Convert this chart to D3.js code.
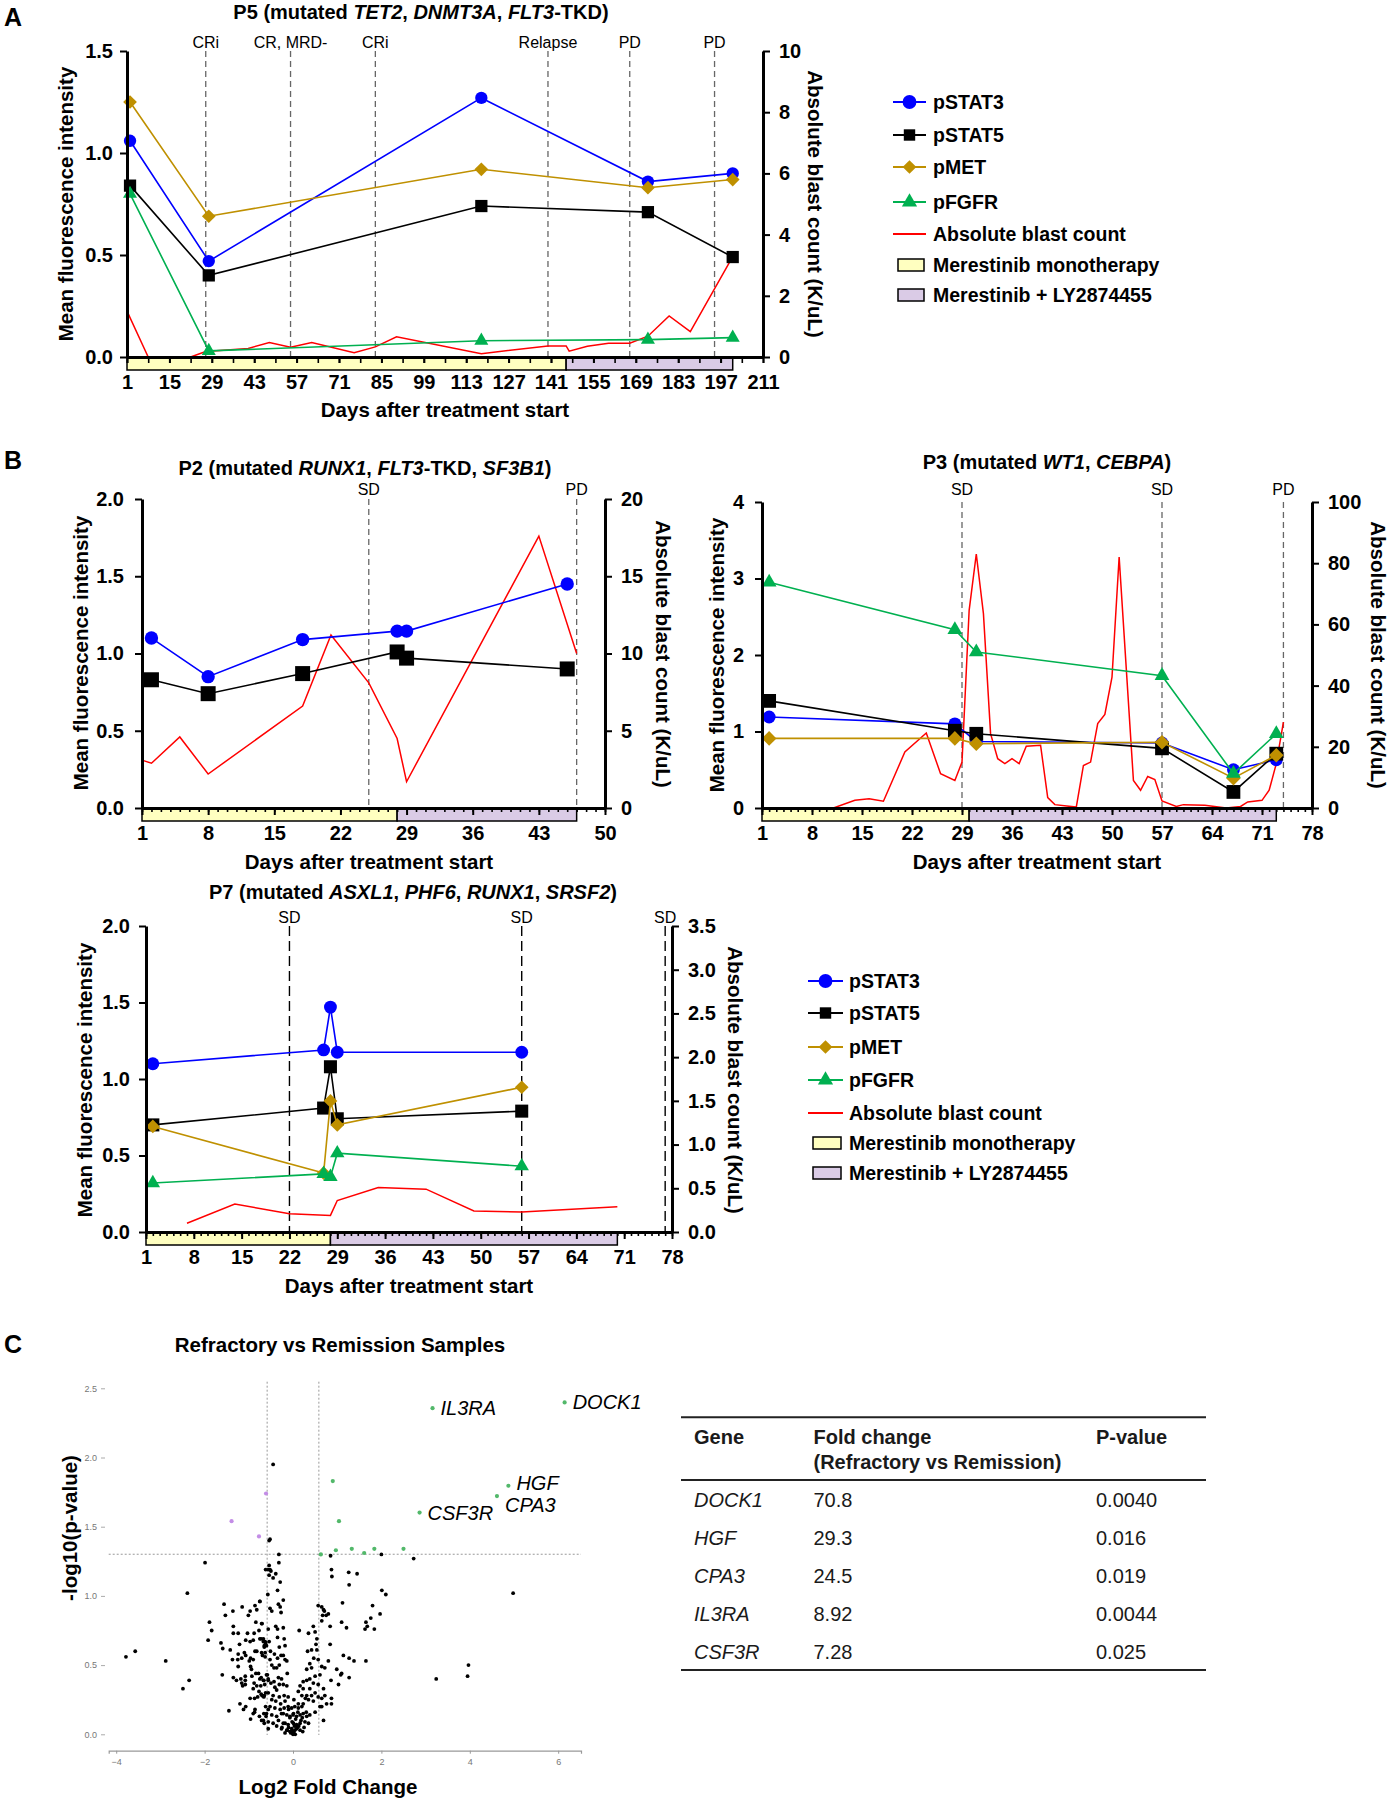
<!DOCTYPE html>
<html><head><meta charset="utf-8">
<script src="https://cdn.jsdelivr.net/npm/d3@7"></script>
<style>body{margin:0;background:#fff}svg{display:block}</style>
</head><body>
<svg id="c" width="1391" height="1800"></svg>
<script>
// ================= DATA =================
const seriesNames = ["pSTAT3", "pSTAT5", "pMET", "pFGFR"];
const legendLabels = ["pSTAT3", "pSTAT5", "pMET", "pFGFR", "Absolute blast count", "Merestinib monotherapy", "Merestinib + LY2874455"];

// P5
const p5Days = [2, 28, 118, 173, 201];
const p5STAT3 = [1.06, 0.47, 1.27, 0.86, 0.90];
const p5STAT5 = [0.84, 0.40, 0.74, 0.71, 0.49];
const p5MET = [1.25, 0.69, 0.92, 0.83, 0.87];
const p5FGFR = [0.80, 0.03, 0.08, 0.085, 0.095];
const p5BlastDays = [1, 8, 22, 27, 41, 48, 55, 62, 76, 83, 90, 118, 140, 146, 147, 153, 160, 167, 173, 180, 187, 201];
const p5Blast = [1.5, 0, 0, 0.18, 0.28, 0.47, 0.32, 0.47, 0.14, 0.33, 0.66, 0.11, 0.36, 0.36, 0.19, 0.35, 0.45, 0.45, 0.68, 1.34, 0.83, 3.28];
const p5EventDays = [27, 55, 83, 140, 167, 195];
const p5EventLabels = ["CRi", "CR, MRD-", "CRi", "Relapse", "PD", "PD"];
const p5Treat = [[1, 146], [146, 201]];
const p5XLabels = d3.range(1, 212, 14);

// P2
const p2Days = [2, 8, 18, 28, 29, 46];
const p2STAT3 = [1.10, 0.85, 1.09, 1.145, 1.145, 1.45];
const p2STAT5 = [0.83, 0.74, 0.87, 1.01, 0.97, 0.90];
const p2BlastDays = [1, 2, 5, 8, 18, 21, 25, 28, 29, 43, 47];
const p2Blast = [3.1, 2.9, 4.6, 2.2, 6.6, 11.2, 8.1, 4.5, 1.7, 17.6, 10.0];
const p2EventDays = [25, 47];
const p2EventLabels = ["SD", "PD"];
const p2Treat = [[1, 28], [28, 47]];

// P3
const p3Days = [2, 28, 31, 57, 67, 73];
const p3STAT3 = [1.19, 1.10, 0.87, 0.85, 0.50, 0.63];
const p3STAT5 = [1.40, 1.01, 0.97, 0.78, 0.21, 0.71];
const p3MET = [0.91, 0.91, 0.84, 0.86, 0.39, 0.69];
const p3FGFR = [2.95, 2.33, 2.04, 1.73, 0.45, 0.97];
const p3BlastDays = [1, 11, 14, 16, 18, 21, 24, 26, 28, 29, 30, 31, 32, 33, 34, 35, 36, 37, 38, 40, 41, 42, 45, 46, 47, 48, 49, 50, 51, 53, 54, 55, 56, 57, 59, 60, 63, 66, 68, 69, 71, 72, 73, 74];
const p3Blast = [0, 0, 2.5, 3, 2.2, 18.3, 24.5, 11.2, 9, 15, 64.6, 83, 63.5, 24.3, 16.1, 14.5, 16.1, 14.5, 20.2, 20.5, 3.4, 1.1, 0.3, 13.9, 15, 27.6, 30.6, 42.8, 82, 9, 5.8, 10.3, 9.3, 2.3, 0.5, 1.1, 0.9, 0, 0.5, 2, 2.5, 5.8, 14.5, 28.1];
const p3EventDays = [29, 57, 74];
const p3EventLabels = ["SD", "SD", "PD"];
const p3Treat = [[1, 30], [30, 73]];

// P7
const p7Days = [2, 27, 28, 29, 56];
const p7STAT3 = [1.10, 1.19, 1.47, 1.175, 1.175];
const p7STAT5 = [0.70, 0.81, 1.08, 0.74, 0.79];
const p7MET = [0.69, 0.385, 0.857, 0.70, 0.946];
const p7FGFR = [0.32, 0.38, 0.36, 0.515, 0.43];
const p7BlastDays = [7, 14, 22, 28, 29, 35, 42, 49, 56, 70];
const p7Blast = [0.10, 0.32, 0.21, 0.19, 0.36, 0.51, 0.49, 0.24, 0.23, 0.29];
const p7EventDays = [22, 56, 77];
const p7EventLabels = ["SD", "SD", "SD"];
const p7Treat = [[1, 28], [28, 70]];

// Table / labelled genes
const tableGenes = ["DOCK1", "HGF", "CPA3", "IL3RA", "CSF3R"];
const tableFold = [70.8, 29.3, 24.5, 8.92, 7.28];
const tablePval = ["0.0040", "0.016", "0.019", "0.0044", "0.025"];

// Volcano: significant up (green), down (purple), non-significant (black) [log2FC, -log10 p]
const volcanoUp = [[0.90, 1.83], [1.04, 1.54], [0.63, 1.30], [0.97, 1.33], [1.33, 1.34], [1.61, 1.31], [1.84, 1.34], [2.50, 1.34]];
const volcanoDown = [[-0.61, 1.74], [-1.39, 1.54], [-0.77, 1.43]];
const volcanoNs = [
[-1.99,1.24],[-2.39,1.02],[-1.56,0.94],[-1.15,0.92],[-0.86,0.93],[-0.82,0.90],[-0.97,0.89],[-1.36,0.89],[-0.75,0.96],[-1.01,0.86],[-1.53,0.86],[-1.89,0.81],[-0.84,0.81],[-0.70,0.80],[-1.35,0.78],[-1.84,0.75],[-1.35,0.73],[-1.24,0.73],[-1.03,0.73],[-0.88,0.73],[-0.77,0.75],[-1.92,0.68],[-1.63,0.66],[-1.07,0.68],[-0.97,0.67],[-0.90,0.68],[-0.75,0.69],[-0.67,0.69],[-0.63,0.67],[-1.21,0.65],[-1.42,0.61],[-1.59,0.62],[-0.65,0.64],[-3.57,0.60],[-3.78,0.56],[-2.88,0.53],[-1.24,0.58],[-1.10,0.59],[-1.07,0.57],[-0.86,0.60],[-0.82,0.60],[-0.69,0.57],[-0.63,0.59],[-0.96,0.55],[-0.90,0.54],[-0.99,0.53],[-1.37,0.54],[-1.25,0.54],[-1.16,0.55],[-1.24,0.49],[-0.96,0.49],[-0.94,0.47],[-1.60,0.43],[-1.35,0.41],[-1.28,0.39],[-1.18,0.40],[-1.08,0.42],[-1.08,0.39],[-0.93,0.42],[-0.84,0.44],[-0.78,0.44],[-0.75,0.40],[-0.67,0.39],[-0.60,0.43],[-2.35,0.39],[-2.49,0.33],[-1.16,0.37],[-1.14,0.35],[-1.08,0.36],[-0.88,0.37],[-0.82,0.35],[-0.73,0.35],[-0.64,0.36],[-0.56,0.39],[-0.90,0.33],[-0.77,0.31],[-0.72,0.29],[-0.80,0.27],[-0.69,0.28],[-0.65,0.28],[-0.62,0.30],[-0.56,0.30],[-0.87,0.26],[-0.97,0.26],[-1.20,0.22],[-1.07,0.20],[-1.12,0.18],[-0.86,0.18],[-0.62,0.20],[-0.56,0.18],[-1.45,0.17],[-0.90,0.15],[-0.87,0.16],[-0.76,0.13],[-0.66,0.15],[-0.61,0.13],[-0.71,0.10],[-0.96,0.11],[-0.65,0.08],[-0.56,0.04],[-0.62,1.19],[-0.56,1.19],[-0.54,1.15],
[-0.32,1.24],[-0.54,1.22],[-0.50,1.18],[-0.39,1.16],[-0.45,1.13],[-0.29,1.10],[-0.52,1.19],[-0.57,1.01],[-0.35,1.04],[-0.22,0.97],[-0.33,0.94],[-0.29,0.92],[-0.52,0.91],[-0.48,0.89],[-0.27,0.88],[-0.75,0.96],[-0.71,0.80],[-0.39,0.78],[-0.35,0.76],[-0.56,0.76],[-0.22,0.77],[-0.72,0.69],[-0.67,0.67],[-0.62,0.66],[-0.54,0.67],[-0.35,0.70],[-0.20,0.69],[-0.65,0.63],[-0.60,0.64],[-0.31,0.63],[-0.18,0.64],[-0.71,0.59],[-0.63,0.56],[-0.51,0.60],[-0.42,0.58],[-0.35,0.55],[-0.27,0.57],[-0.22,0.57],[-0.18,0.54],[-0.14,0.53],[-0.52,0.54],[-0.48,0.50],[-0.43,0.48],[-0.37,0.48],[-0.31,0.50],[-0.58,0.43],[-0.66,0.39],[-0.56,0.40],[-0.50,0.37],[-0.43,0.38],[-0.33,0.41],[-0.26,0.40],[-0.13,0.44],[-0.72,0.41],[-0.41,0.34],[-0.31,0.36],[-0.22,0.36],[-0.14,0.35],[-0.37,0.32],[-0.70,0.28],[-0.66,0.27],[-0.45,0.28],[-0.31,0.27],[-0.20,0.28],[-0.11,0.27],[-0.48,0.25],[-0.39,0.24],[-0.28,0.22],[-0.18,0.24],[-0.52,0.20],[-0.41,0.19],[-0.29,0.18],[-0.20,0.19],[-0.11,0.20],[-0.03,0.19],[0.04,0.20],[0.12,0.19],[0.20,0.20],[-0.60,0.15],[-0.48,0.14],[-0.37,0.13],[-0.26,0.15],[-0.14,0.14],[-0.07,0.13],[0.01,0.15],[0.08,0.13],[0.16,0.14],[0.23,0.15],[0.31,0.13],[0.38,0.14],[-0.67,0.10],[-0.56,0.09],[-0.45,0.08],[-0.33,0.10],[-0.22,0.08],[-0.11,0.07],[0.01,0.08],[0.08,0.07],[0.16,0.08],[0.27,0.09],[0.35,0.08],[-0.37,0.06],[-0.26,0.04],[-0.14,0.03],[-0.07,0.02],[-0.03,0.04],[0.01,0.02],[0.04,0.03],[0.08,0.04],[0.16,0.03],[0.22,0.02],[-0.18,0.01],[-0.01,0.01],
[0.00,0.00],[0.02,0.01],[-0.03,0.02],[0.05,0.00],[-0.05,0.01],[0.10,0.05],[-0.10,0.05],[0.13,0.06],[-0.13,0.03],[0.03,0.06],[-0.02,0.09],[0.06,0.11],[-0.07,0.12],[0.18,0.10],[-0.18,0.08],[0.00,0.14],[0.11,0.16],[-0.10,0.18],[0.21,0.12],[-0.22,0.15],[0.25,0.05],[-0.25,0.05],[0.30,0.16],[0.02,0.25],[0.28,0.26],
[0.14,0.75],[0.35,0.73],[0.46,0.78],[0.50,0.74],[0.54,0.69],[0.52,0.65],[0.42,0.61],[0.33,0.60],[0.54,0.61],[0.47,0.55],[0.38,0.51],[0.42,0.48],[0.31,0.47],[0.57,0.54],[0.65,0.49],[0.72,0.48],[0.61,0.43],[0.50,0.42],[0.38,0.40],[0.31,0.39],[0.23,0.38],[0.46,0.37],[0.57,0.36],[0.38,0.33],[0.23,0.33],[0.16,0.35],[0.12,0.31],[0.20,0.28],[0.31,0.28],[0.42,0.28],[0.50,0.30],[0.57,0.27],[0.69,0.33],[0.72,0.28],[0.65,0.26],[0.46,0.24],[0.35,0.25],[0.23,0.22],[0.12,0.22],[0.61,0.20],[0.50,0.16],[0.65,0.20],[0.69,0.10],[0.76,0.22],[0.87,0.22],[0.87,0.26],[0.57,0.93],[0.65,0.92],[0.69,0.90],[0.71,0.89],[0.67,0.86],[0.75,0.86],[0.80,0.87],[0.65,0.82],[0.84,0.78],[0.84,0.65],[0.86,0.39],[0.80,0.53],[0.99,0.47],[1.08,0.43],[1.10,0.44],[1.03,0.36],[1.27,0.41],[1.14,0.57],[1.27,0.55],[1.38,0.53],[1.65,0.53],[0.87,1.19],[0.88,1.14],[1.26,1.17],[1.27,1.08],[1.45,1.16],[1.12,0.95],[1.10,0.81],[1.21,0.77],[1.65,0.81],[1.68,0.78],[1.63,0.76],[1.76,0.84],[1.80,0.93],[1.84,0.76],[1.97,0.87],[2.01,1.04],[2.10,1.01],
[-0.45,1.95],[-0.54,1.40],[-0.52,1.41],[-0.32,1.30],[0.85,1.29],[2.00,1.30],[2.73,1.27],[3.24,0.40],[3.97,0.50],[3.95,0.42],[4.98,1.02]
];

// ================= DRAWING =================
const FONT = "'Liberation Sans', Arial, Helvetica, sans-serif";
const BLUE = "#0000ff", BLACK = "#000000", GOLD = "#bf9000", GREEN = "#00b050", RED = "#ff0000";
const YELLOW = "#ffffc0", LILAC = "#dacbe6";
const svg = d3.select("#c").attr("font-family", FONT);
svg.append("rect").attr("width", 1391).attr("height", 1800).attr("fill", "#fff");

function richText(x, y, parts, size, anchor) {
  const t = svg.append("text").attr("x", x).attr("y", y).attr("text-anchor", anchor || "middle")
    .attr("font-size", size).attr("font-weight", "bold").attr("fill", "#000");
  parts.forEach(p => t.append("tspan").attr("font-style", p[1] ? "italic" : "normal").text(p[0]));
  return t;
}

function styleAxis(sel, fs, width) {
  sel.attr("font-family", FONT).attr("font-size", fs).attr("font-weight", "bold");
  sel.select(".domain").attr("stroke", "#000").attr("stroke-width", width || 3);
  sel.selectAll(".tick line").attr("stroke", "#000").attr("stroke-width", 2);
  sel.selectAll(".tick text").attr("fill", "#000");
}

function timeChart(c) {
  const g = svg.append("g");
  const x = d3.scaleLinear().domain(c.xDomain).range([c.left, c.right]);
  const y = d3.scaleLinear().domain(c.yDomain).range([c.bottom, c.top]);
  const y2 = d3.scaleLinear().domain(c.y2Domain).range([c.bottom, c.top]);

  c.treat.forEach((t, i) => {
    g.append("rect").attr("x", x(t[0])).attr("y", c.bottom).attr("width", x(t[1]) - x(t[0])).attr("height", 13)
      .attr("fill", i === 0 ? YELLOW : LILAC).attr("stroke", "#000").attr("stroke-width", 1.5);
  });

  c.eventDays.forEach((d, i) => {
    g.append("line").attr("x1", x(d)).attr("x2", x(d)).attr("y1", c.top).attr("y2", c.bottom)
      .attr("stroke", c.evColor).attr("stroke-width", c.evWidth).attr("stroke-dasharray", c.evDash);
    g.append("text").attr("x", x(d)).attr("y", c.evLabelY).attr("text-anchor", "middle")
      .attr("font-size", 16).attr("fill", "#000").text(c.eventLabels[i]);
  });

  g.append("path").datum(c.blastDays.map((d, i) => [d, c.blast[i]]))
    .attr("d", d3.line().x(d => x(d[0])).y(d => y2(d[1])))
    .attr("fill", "none").attr("stroke", RED).attr("stroke-width", 1.5);

  const line = d3.line().x(d => x(d[0])).y(d => y(d[1]));
  c.series.forEach(s => {
    const pts = c.days.map((d, i) => [d, s.values[i]]);
    g.append("path").datum(pts).attr("d", line).attr("fill", "none").attr("stroke", s.color).attr("stroke-width", 1.6);
    g.selectAll(null).data(pts).join("path")
      .attr("transform", d => `translate(${x(d[0])},${y(d[1])})`)
      .attr("d", d3.symbol().type(s.symbol).size(s.size)).attr("fill", s.color);
  });

  const minor = g.append("g").attr("transform", `translate(0,${c.bottom})`)
    .call(d3.axisBottom(x).tickValues(c.xMinor).tickSize(c.minorSize).tickFormat("").tickSizeOuter(0));
  minor.select(".domain").remove();
  minor.selectAll(".tick line").attr("stroke", "#000").attr("stroke-width", 1.6);
  const xa = g.append("g").attr("transform", `translate(0,${c.bottom})`)
    .call(d3.axisBottom(x).tickValues(c.xLabels).tickSize(c.majorSize).tickPadding(18 - c.majorSize).tickSizeOuter(0).tickFormat(d3.format("d")));
  styleAxis(xa, 20);
  const ya = g.append("g").attr("transform", `translate(${c.left},0)`)
    .call(d3.axisLeft(y).tickValues(c.yTicks).tickFormat(c.yFmt).tickSize(7).tickPadding(c.yPad).tickSizeOuter(0));
  styleAxis(ya, 20);
  const y2a = g.append("g").attr("transform", `translate(${c.right},0)`)
    .call(d3.axisRight(y2).tickValues(c.y2Ticks).tickFormat(c.y2Fmt).tickSize(7).tickPadding(9).tickSizeOuter(0));
  styleAxis(y2a, 20);

  richText(c.titleX, c.titleY, c.title, 20);
  g.append("text").attr("x", c.xTitle[0]).attr("y", c.xTitle[1]).attr("text-anchor", "middle")
    .attr("font-size", 20.5).attr("font-weight", "bold").text("Days after treatment start");
  g.append("text").attr("transform", `translate(${c.yTitle[0]},${c.yTitle[1]}) rotate(-90)`)
    .attr("text-anchor", "middle").attr("dominant-baseline", "central")
    .attr("font-size", 20.5).attr("font-weight", "bold").text("Mean fluorescence intensity");
  g.append("text").attr("transform", `translate(${c.y2Title[0]},${c.y2Title[1]}) rotate(90)`)
    .attr("text-anchor", "middle").attr("dominant-baseline", "central")
    .attr("font-size", 20.5).attr("font-weight", "bold").text("Absolute blast count (K/uL)");
}

function mk(names, vals, sizes) {
  const colors = [BLUE, BLACK, GOLD, GREEN];
  const syms = [d3.symbolCircle, d3.symbolSquare, d3.symbolDiamond2, d3.symbolTriangle];
  return vals.map((v, i) => ({ name: names[i], values: v, color: colors[i], symbol: syms[i], size: sizes[i] }));
}

const f1 = d3.format(".1f"), fd = d3.format("d");

timeChart({
  left: 127, right: 763, top: 51, bottom: 357,
  xDomain: [1, 211], yDomain: [0, 1.5], y2Domain: [0, 10],
  yTicks: [0, 0.5, 1, 1.5], yFmt: f1, yPad: 7, y2Ticks: [0, 2, 4, 6, 8, 10], y2Fmt: fd,
  xLabels: p5XLabels, xMinor: d3.range(1, 212, 7), majorSize: 6, minorSize: 6,
  treat: p5Treat, eventDays: p5EventDays, eventLabels: p5EventLabels,
  evColor: "#666", evWidth: 1.3, evDash: "6,4", evLabelY: 48,
  blastDays: p5BlastDays, blast: p5Blast, days: p5Days,
  series: mk(seriesNames, [p5STAT3, p5STAT5, p5MET, p5FGFR], [120, 150, 120, 85]),
  title: [["P5 (mutated ", 0], ["TET2", 1], [", ", 0], ["DNMT3A", 1], [", ", 0], ["FLT3", 1], ["-TKD)", 0]],
  titleX: 421, titleY: 19, xTitle: [445, 417], yTitle: [65, 204], y2Title: [815, 204]
});

timeChart({
  left: 142, right: 605, top: 499, bottom: 808,
  xDomain: [1, 50], yDomain: [0, 2], y2Domain: [0, 20],
  yTicks: [0, 0.5, 1, 1.5, 2], yFmt: f1, yPad: 11, y2Ticks: [0, 5, 10, 15, 20], y2Fmt: fd,
  xLabels: d3.range(1, 51, 7), xMinor: d3.range(1, 51, 1), majorSize: 7, minorSize: 4,
  treat: p2Treat, eventDays: p2EventDays, eventLabels: p2EventLabels,
  evColor: "#666", evWidth: 1.3, evDash: "6,4", evLabelY: 495,
  blastDays: p2BlastDays, blast: p2Blast, days: p2Days,
  series: mk(seriesNames.slice(0, 2), [p2STAT3, p2STAT5], [140, 225]),
  title: [["P2 (mutated ", 0], ["RUNX1", 1], [", ", 0], ["FLT3", 1], ["-TKD, ", 0], ["SF3B1", 1], [")", 0]],
  titleX: 365, titleY: 475, xTitle: [369, 869], yTitle: [80, 653], y2Title: [663, 654]
});

timeChart({
  left: 762, right: 1312, top: 502, bottom: 808,
  xDomain: [1, 78], yDomain: [0, 4], y2Domain: [0, 100],
  yTicks: [0, 1, 2, 3, 4], yFmt: fd, yPad: 11, y2Ticks: [0, 20, 40, 60, 80, 100], y2Fmt: fd,
  xLabels: d3.range(1, 79, 7), xMinor: d3.range(1, 79, 1), majorSize: 7, minorSize: 4,
  treat: p3Treat, eventDays: p3EventDays, eventLabels: p3EventLabels,
  evColor: "#666", evWidth: 1.3, evDash: "6,4", evLabelY: 495,
  blastDays: p3BlastDays, blast: p3Blast, days: p3Days,
  series: mk(seriesNames, [p3STAT3, p3STAT5, p3MET, p3FGFR], [130, 190, 135, 95]),
  title: [["P3 (mutated ", 0], ["WT1", 1], [", ", 0], ["CEBPA", 1], [")", 0]],
  titleX: 1047, titleY: 469, xTitle: [1037, 869], yTitle: [716, 655], y2Title: [1378, 655]
});

timeChart({
  left: 146, right: 672, top: 926, bottom: 1232,
  xDomain: [1, 78], yDomain: [0, 2], y2Domain: [0, 3.5],
  yTicks: [0, 0.5, 1, 1.5, 2], yFmt: f1, yPad: 9, y2Ticks: [0, 0.5, 1, 1.5, 2, 2.5, 3, 3.5], y2Fmt: f1,
  xLabels: d3.range(1, 79, 7), xMinor: d3.range(1, 79, 1), majorSize: 7, minorSize: 4,
  treat: p7Treat, eventDays: p7EventDays, eventLabels: p7EventLabels,
  evColor: "#000", evWidth: 1.4, evDash: "10,5", evLabelY: 923,
  blastDays: p7BlastDays, blast: p7Blast, days: p7Days,
  series: mk(seriesNames, [p7STAT3, p7STAT5, p7MET, p7FGFR], [130, 170, 120, 90]),
  title: [["P7 (mutated ", 0], ["ASXL1", 1], [", ", 0], ["PHF6", 1], [", ", 0], ["RUNX1", 1], [", ", 0], ["SRSF2", 1], [")", 0]],
  titleX: 413, titleY: 899, xTitle: [409, 1293], yTitle: [84, 1080], y2Title: [735, 1080]
});

function legend(lx1, lx2, tx, rows) {
  const g = svg.append("g");
  const colors = [BLUE, BLACK, GOLD, GREEN];
  const syms = [d3.symbolCircle, d3.symbolSquare, d3.symbolDiamond2, d3.symbolTriangle];
  const sizes = [150, 130, 120, 100];
  const cx = (lx1 + lx2) / 2;
  legendLabels.forEach((lab, i) => {
    const yy = rows[i];
    if (i < 4) {
      g.append("line").attr("x1", lx1).attr("x2", lx2).attr("y1", yy).attr("y2", yy).attr("stroke", colors[i]).attr("stroke-width", 1.8);
      g.append("path").attr("transform", `translate(${cx},${yy})`).attr("d", d3.symbol().type(syms[i]).size(sizes[i])).attr("fill", colors[i]);
    } else if (i === 4) {
      g.append("line").attr("x1", lx1).attr("x2", lx2).attr("y1", yy).attr("y2", yy).attr("stroke", RED).attr("stroke-width", 1.8);
    } else {
      g.append("rect").attr("x", lx1 + 5).attr("y", yy - 6).attr("width", lx2 - lx1 - 7).attr("height", 12)
        .attr("fill", i === 5 ? YELLOW : LILAC).attr("stroke", "#000").attr("stroke-width", 1.5);
    }
    g.append("text").attr("x", tx).attr("y", yy + 7).attr("font-size", 19.5).attr("font-weight", "bold").attr("fill", "#000").text(lab);
  });
}
legend(893, 926, 933, [102, 135, 167, 202, 234, 265, 295]);
legend(808, 843, 849, [981, 1013, 1047, 1080, 1113, 1143, 1173]);

[["A", 26], ["B", 469], ["C", 1353]].forEach(([l, yy]) =>
  svg.append("text").attr("x", 4).attr("y", yy).attr("font-size", 25).attr("font-weight", "bold").text(l));

(function volcano() {
  const g = svg.append("g");
  const x = d3.scaleLinear().domain([-4.17, 6.516]).range([108.7, 581]);
  const y = d3.scaleLinear().domain([0, 2.5]).range([1734.3, 1388.3]);
  richText(340, 1352, [["Refractory vs Remission Samples", 0]], 20.5);

  const xa = g.append("g").attr("transform", "translate(0,1750.7)")
    .call(d3.axisBottom(x).tickValues([-4, -2, 0, 2, 4, 6]).tickSize(3).tickPadding(5).tickFormat(d3.format("d")));
  xa.attr("font-family", FONT).attr("font-size", 9);
  xa.select(".domain").attr("stroke", "#999").attr("stroke-width", 1.2);
  xa.selectAll(".tick line").attr("stroke", "#999");
  xa.selectAll(".tick text").attr("fill", "#777");
  const ya = g.append("g").attr("transform", "translate(105,0)")
    .call(d3.axisLeft(y).tickValues([0, 0.5, 1, 1.5, 2, 2.5]).tickSize(4).tickPadding(4).tickFormat(d3.format(".1f")));
  ya.attr("font-family", FONT).attr("font-size", 9);
  ya.select(".domain").remove();
  ya.selectAll(".tick line").attr("stroke", "#aaa");
  ya.selectAll(".tick text").attr("fill", "#777");

  const fcT = Math.log2(1.5), pT = -Math.log10(0.05);
  [-fcT, fcT].forEach(v => g.append("line").attr("x1", x(v)).attr("x2", x(v)).attr("y1", 1381.7).attr("y2", 1735)
    .attr("stroke", "#999").attr("stroke-width", 1).attr("stroke-dasharray", "2,2"));
  g.append("line").attr("x1", 108.7).attr("x2", 581).attr("y1", y(pT)).attr("y2", y(pT))
    .attr("stroke", "#999").attr("stroke-width", 1).attr("stroke-dasharray", "2,2");

  g.selectAll(null).data(volcanoNs).join("circle").attr("cx", d => x(d[0])).attr("cy", d => y(d[1])).attr("r", 1.9).attr("fill", "#000");
  g.selectAll(null).data(volcanoDown).join("circle").attr("cx", d => x(d[0])).attr("cy", d => y(d[1])).attr("r", 2.1).attr("fill", "#c38de6");
  g.selectAll(null).data(volcanoUp).join("circle").attr("cx", d => x(d[0])).attr("cy", d => y(d[1])).attr("r", 2.1).attr("fill", "#52b86a");

  const lab = tableGenes.map((gn, i) => ({ gene: gn, lfc: Math.log2(tableFold[i]), p: -Math.log10(+tablePval[i]) }));
  const nudgeY = { CPA3: 9, HGF: -3 };
  lab.forEach(d => {
    g.append("circle").attr("cx", x(d.lfc)).attr("cy", y(d.p)).attr("r", 2.1).attr("fill", "#52b86a");
    g.append("text").attr("x", x(d.lfc) + 8).attr("y", y(d.p) + 7 + (nudgeY[d.gene] || 0))
      .attr("font-size", 20).attr("font-style", "italic").attr("fill", "#000").text(d.gene);
  });

  g.append("text").attr("transform", "translate(69,1528) rotate(-90)").attr("text-anchor", "middle")
    .attr("dominant-baseline", "central").attr("font-size", 20.5).attr("font-weight", "bold").text("-log10(p-value)");
  g.append("text").attr("x", 328).attr("y", 1794).attr("text-anchor", "middle")
    .attr("font-size", 20.5).attr("font-weight", "bold").text("Log2 Fold Change");
})();

(function table() {
  const g = svg.append("g").attr("font-size", 20).attr("fill", "#1a1a1a");
  const cols = [694, 813.5, 1096];
  [1417.3, 1480, 1670].forEach(yy => g.append("line").attr("x1", 681).attr("x2", 1206).attr("y1", yy).attr("y2", yy)
    .attr("stroke", "#222").attr("stroke-width", 2));
  g.append("text").attr("x", cols[0]).attr("y", 1444).attr("font-weight", "bold").text("Gene");
  g.append("text").attr("x", cols[1]).attr("y", 1444).attr("font-weight", "bold").text("Fold change");
  g.append("text").attr("x", cols[1]).attr("y", 1469).attr("font-weight", "bold").text("(Refractory vs Remission)");
  g.append("text").attr("x", cols[2]).attr("y", 1444).attr("font-weight", "bold").text("P-value");
  const rowY = d3.scalePoint().domain(tableGenes).range([1507, 1659]);
  tableGenes.forEach((gn, i) => {
    const yy = rowY(gn);
    g.append("text").attr("x", cols[0]).attr("y", yy).attr("font-style", "italic").text(gn);
    g.append("text").attr("x", cols[1]).attr("y", yy).text(tableFold[i]);
    g.append("text").attr("x", cols[2]).attr("y", yy).text(tablePval[i]);
  });
})();
</script>
</body></html>
